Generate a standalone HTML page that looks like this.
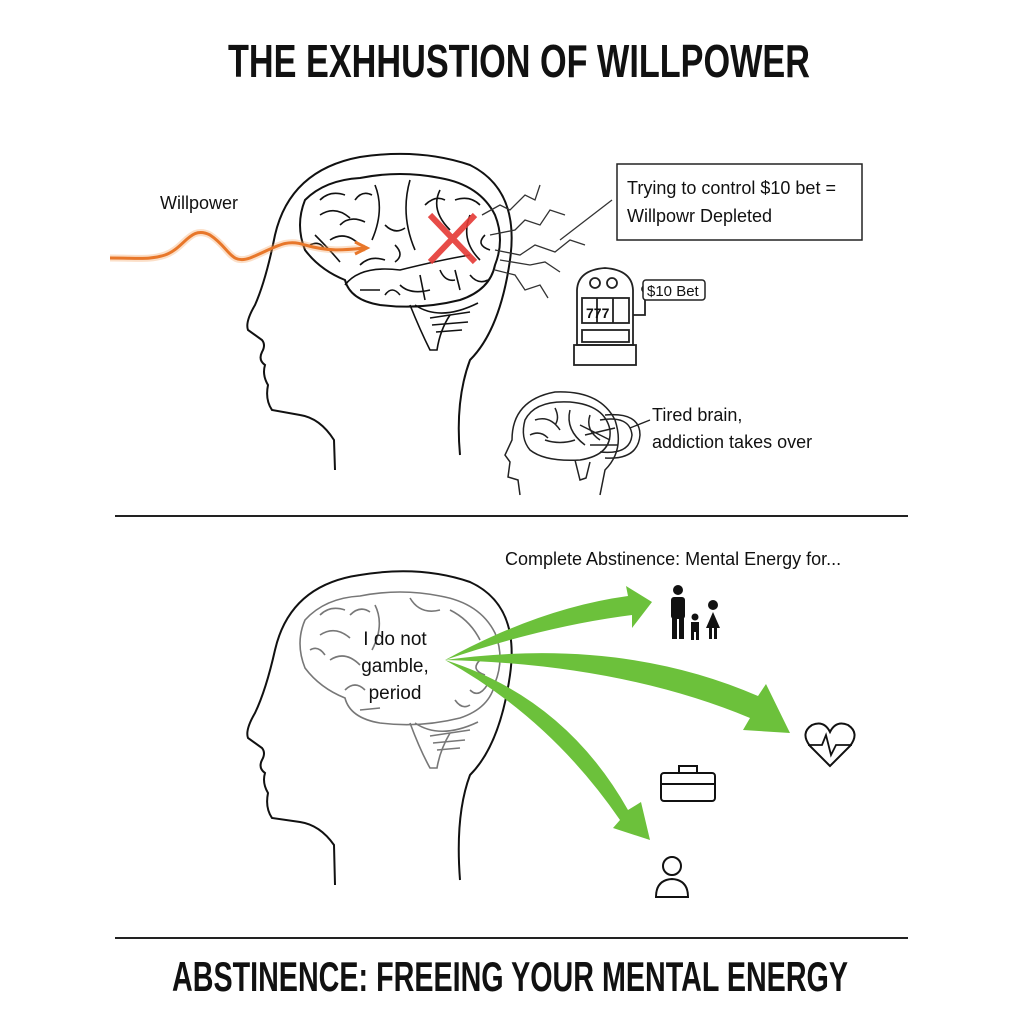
<!DOCTYPE html>
<html><head><meta charset="utf-8"><style>
html,body{margin:0;padding:0;background:#fff}
svg{display:block}
.t{font-family:"Liberation Sans",sans-serif;fill:#111}
.h{font-family:"Liberation Sans Narrow","Liberation Sans",sans-serif;font-weight:bold;fill:#111}
</style></head><body>
<svg width="1024" height="1024" viewBox="0 0 1024 1024" xmlns="http://www.w3.org/2000/svg">
<rect width="1024" height="1024" fill="#fff"/>
<text class="h" x="519" y="77" font-size="46" text-anchor="middle" textLength="582" lengthAdjust="spacingAndGlyphs">THE EXHHUSTION OF WILLPOWER</text>

<!-- head 1 -->
<g fill="none" stroke="#111" stroke-width="2">
<path d="M335 470 L334 440 Q320 418 300 415 L272 410 Q265 400 268 385 Q262 375 265 365 Q258 360 262 352 Q266 345 262 340 L248 330 Q245 322 255 305 Q266 280 275 235 Q290 170 360 157 Q420 148 470 165 Q520 190 510 260 Q500 330 470 360 Q455 400 460 455"/>
<path d="M305 200 Q325 180 360 178 Q400 170 440 178 Q480 185 495 215 Q505 240 495 265 Q490 290 460 300 Q420 310 380 305 Q350 300 345 280 Q320 270 305 250 Q295 225 305 200Z"/>
</g>
<g fill="none" stroke="#111" stroke-width="1.6">
<path d="M345 285 Q360 265 400 270 Q440 260 470 255 M320 215 Q335 205 350 218 M330 240 Q345 230 360 245 M375 185 Q385 210 372 240 M410 180 Q400 215 415 250 M440 190 Q430 210 450 230 M470 215 Q460 240 480 260 M360 290 L380 290 M400 285 Q410 295 430 290 M420 275 L425 300 M455 270 L460 290 M315 235 Q330 250 340 262"/>
<path d="M320 200 Q330 190 345 195 M340 225 Q350 215 365 222 M355 200 Q362 190 372 195 M385 225 Q395 235 405 228 M425 205 Q435 195 445 200 M455 200 Q470 195 480 205 M485 235 Q475 245 490 250 M360 265 Q370 255 385 260 M440 270 Q445 282 455 280 M470 275 Q478 285 488 280 M385 295 Q392 285 400 295 M310 245 Q320 240 325 250 M395 245 Q405 255 395 262"/>
<path d="M410 305 Q420 330 430 350 L437 350 Q440 330 450 315 M415 305 Q440 322 478 303"/>
<path d="M430 318 L470 312 M432 325 L468 322 M436 332 L462 330"/>
</g>
<!-- wave -->
<path d="M110 258 C140 258 150 260 165 255 C185 248 190 225 210 235 C230 248 230 265 250 258 C275 248 285 238 305 245 C330 252 345 250 365 248" fill="none" stroke="#f4a460" stroke-width="7" opacity="0.35"/>
<path d="M110 258 C140 258 150 260 165 255 C185 248 190 225 210 235 C230 248 230 265 250 258 C275 248 285 238 305 245 C330 252 345 250 365 248" fill="none" stroke="#e8772a" stroke-width="3"/>
<path d="M355 242 L367 248 L355 254" fill="none" stroke="#e8772a" stroke-width="3"/>
<text class="t" x="160" y="209" font-size="18">Willpower</text>
<g stroke="#e53935" stroke-width="6" opacity="0.9"><path d="M430 215 L475 262 M475 215 L430 262"/></g>
<g fill="none" stroke="#333" stroke-width="1.3">
<path d="M482 215 L500 205 L510 210 L525 195 L535 200 L540 185"/>
<path d="M490 235 L515 230 L525 220 L540 225 L550 210 L565 215"/>
<path d="M495 250 L520 255 L535 245 L555 252 L570 240 L585 245"/>
<path d="M495 270 L515 275 L525 290 L540 285 L548 298"/>
<path d="M500 260 L530 265 L545 262 L560 272"/>
<path d="M560 240 L612 200"/>
</g>
<rect x="617" y="164" width="245" height="76" fill="#fff" stroke="#222" stroke-width="1.5"/>
<text class="t" x="627" y="194" font-size="18">Trying to control $10 bet =</text>
<text class="t" x="627" y="222" font-size="18">Willpowr Depleted</text>
<g fill="none" stroke="#222" stroke-width="1.8">
<path d="M577 345 L577 290 Q578 270 605 268 Q632 270 633 290 L633 345Z"/>
<rect x="582" y="298" width="47" height="25"/>
<line x1="597" y1="298" x2="597" y2="323"/><line x1="613" y1="298" x2="613" y2="323"/>
<rect x="582" y="330" width="47" height="12"/>
<rect x="574" y="345" width="62" height="20"/>
<path d="M633 315 L645 315 L645 292"/><circle cx="645" cy="289" r="3"/>
<circle cx="595" cy="283" r="5"/><circle cx="612" cy="283" r="5"/>
</g>
<text class="t" x="586" y="318" font-size="14" font-weight="bold">777</text>
<rect x="643" y="280" width="62" height="20" rx="3" fill="#fff" stroke="#222" stroke-width="1.5"/>
<text class="t" x="647" y="296" font-size="15">$10 Bet</text>
<g fill="none" stroke="#222" stroke-width="1.5">
<path d="M520 495 L518 480 L508 477 L510 462 L505 455 L512 440 Q512 400 555 392 Q600 390 615 420 Q625 450 605 470 L600 495"/>
<path d="M525 420 Q535 400 570 402 Q605 405 610 430 Q612 455 580 460 Q545 462 530 450 Q520 438 525 420Z"/>
<path d="M535 420 Q550 415 560 430 M570 410 Q565 430 585 445 M590 415 Q585 430 600 440 M545 440 Q560 445 575 440 M530 435 Q540 430 548 438 M555 408 Q560 418 555 425"/>
<path d="M575 460 L580 480 L586 478 L590 462"/>
<path d="M600 420 Q630 415 632 435 Q630 455 600 452 M605 415 Q640 412 640 435 Q638 460 605 458"/>
<path d="M580 425 L610 440 M585 435 L615 428 M590 445 L618 445"/>
</g>
<path d="M630 428 L650 420" stroke="#222" stroke-width="1.3"/>
<text class="t" x="652" y="421" font-size="18">Tired brain,</text>
<text class="t" x="652" y="448" font-size="18">addiction takes over</text>

<line x1="115" y1="516" x2="908" y2="516" stroke="#222" stroke-width="2"/>
<text class="t" x="505" y="565" font-size="18">Complete Abstinence: Mental Energy for...</text>

<g fill="none" stroke="#111" stroke-width="2">
<path d="M335 885 L334 845 Q320 825 300 822 L272 818 Q265 808 268 793 Q262 783 265 773 Q258 768 262 760 Q266 753 262 748 L248 738 Q245 730 255 713 Q266 690 275 650 Q290 585 360 575 Q420 565 470 582 Q520 605 510 675 Q500 745 470 775 Q455 815 460 880"/>
</g>
<g fill="none" stroke="#777" stroke-width="1.6">
<path d="M305 620 Q325 598 360 596 Q400 588 440 596 Q480 603 495 633 Q505 658 495 683 Q490 708 460 718 Q420 728 380 723 Q350 718 345 698 Q320 688 305 668 Q295 643 305 620Z"/>
<path d="M320 635 Q335 625 350 638 M330 660 Q345 650 360 665 M375 605 Q385 625 372 650 M410 598 Q420 615 440 610 M450 610 Q470 620 480 640 M470 690 Q480 700 490 680 M360 710 L380 708 M320 615 Q330 605 345 610 M350 615 Q360 605 370 612 M310 650 Q318 645 325 655 M480 660 Q470 670 485 675 M455 700 Q462 710 470 705 M345 690 Q355 680 365 690"/>
<path d="M410 723 Q420 750 430 768 L437 768 Q440 750 450 733 M415 723 Q440 740 478 722"/>
<path d="M430 736 L470 730 M433 743 L465 740 M437 750 L460 748"/>
</g>
<text class="t" x="395" y="645" font-size="19" text-anchor="middle">I do not</text>
<text class="t" x="395" y="672" font-size="19" text-anchor="middle">gamble,</text>
<text class="t" x="395" y="699" font-size="19" text-anchor="middle">period</text>
<g fill="#6cc13b">
<path d="M445 660 Q540 608 628 596 L626 586 L652 602 L632 628 L632 615 Q545 626 445 660Z"/>
<path d="M445 660 Q620 636 758 696 L766 684 L790 733 L743 730 L750 718 Q620 664 445 660Z"/>
<path d="M445 660 Q565 698 628 810 L641 802 L650 840 L613 828 L620 820 Q550 718 445 660Z"/>
</g>
<g fill="#111">
<circle cx="678" cy="590" r="5"/><rect x="671" y="597" width="14" height="22" rx="3"/><rect x="672" y="617" width="5" height="22"/><rect x="679" y="617" width="5" height="22"/>
<circle cx="713" cy="605" r="5"/><path d="M706 628 L713 612 L720 628Z"/><rect x="709" y="626" width="3" height="13"/><rect x="714" y="626" width="3" height="13"/>
<circle cx="695" cy="617" r="3.5"/><rect x="691" y="622" width="8" height="10"/><rect x="691" y="630" width="3" height="10"/><rect x="696" y="630" width="3" height="10"/>
</g>
<path d="M830 766 L810 746 Q800 733 812 725 Q824 720 830 732 Q836 720 848 725 Q860 733 850 746Z" fill="none" stroke="#111" stroke-width="2"/>
<path d="M808 745 L822 745 L826 735 L831 755 L836 745 L852 745" fill="none" stroke="#111" stroke-width="1.8"/>
<g fill="none" stroke="#111" stroke-width="2"><rect x="661" y="773" width="54" height="28" rx="3"/><path d="M679 773 L679 766 L697 766 L697 773"/><line x1="661" y1="784" x2="715" y2="784"/></g>
<g fill="none" stroke="#111" stroke-width="2"><circle cx="672" cy="866" r="9"/><path d="M656 897 Q656 880 672 879 Q688 880 688 897Z"/></g>

<line x1="115" y1="938" x2="908" y2="938" stroke="#222" stroke-width="2"/>
<text class="h" x="510" y="991" font-size="42" text-anchor="middle" textLength="676" lengthAdjust="spacingAndGlyphs">ABSTINENCE: FREEING YOUR MENTAL ENERGY</text>
</svg>
</body></html>
